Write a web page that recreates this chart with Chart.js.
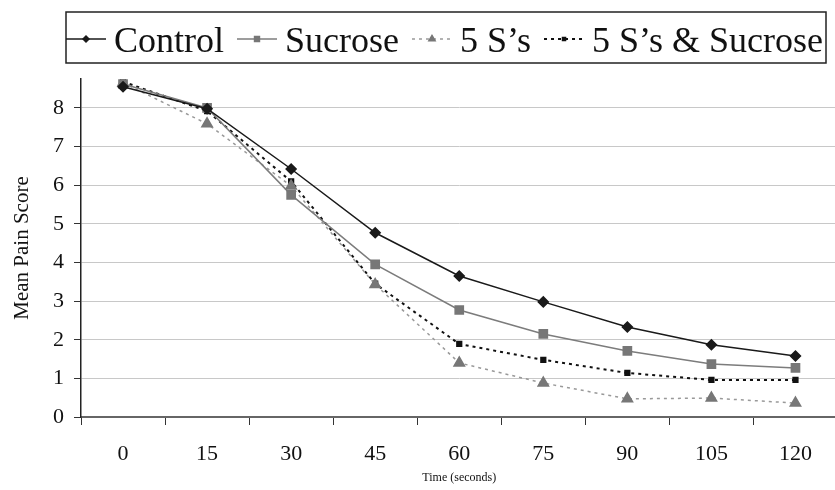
<!DOCTYPE html>
<html>
<head>
<meta charset="utf-8">
<script src="https://cdn.jsdelivr.net/npm/chart.js@4.4.1/dist/chart.umd.min.js"></script>
<style>
  html, body { margin: 0; padding: 0; background: #fff; overflow: hidden; }
  #wrap { width: 835px; height: 490px; overflow: hidden; }
  #box { width: 845px; height: 490px; }
</style>
</head>
<body>
<div id="wrap"><div id="box"><canvas id="chart"></canvas></div></div>
<script>
// Data
const timeLabels = ['0', '15', '30', '45', '60', '75', '90', '105', '120'];
const controlScores = [8.55, 7.98, 6.42, 4.77, 3.65, 2.98, 2.33, 1.87, 1.58];
const sucroseScores = [8.62, 8.00, 5.75, 3.95, 2.77, 2.15, 1.71, 1.37, 1.27];
const fiveSScores = [8.65, 7.59, 5.98, 3.43, 1.40, 0.88, 0.47, 0.49, 0.36];
const fiveSSucroseScores = [8.68, 7.92, 6.10, 3.45, 1.89, 1.48, 1.14, 0.96, 0.96];
const yTicks = [0, 1, 2, 3, 4, 5, 6, 7, 8];

const serif = '"Liberation Serif", "DejaVu Serif", serif';

// legend drawn as a boxed row on top, line sample + marker + text
const boxLegend = {
    id: 'boxLegend',
    afterDraw(chart) {
        const ctx = chart.ctx;
        const left = 66, top = 12, right = 826, bottom = 63;
        ctx.save();
        ctx.strokeStyle = '#222';
        ctx.lineWidth = 1.5;
        ctx.strokeRect(left, top, right - left, bottom - top);
        ctx.font = '36px ' + serif;
        ctx.textBaseline = 'alphabetic';
        let x = left;
        const midY = 39;
        chart.data.datasets.forEach(ds => {
            const w = 40;
            ctx.beginPath();
            ctx.setLineDash(ds.borderDash || []);
            ctx.strokeStyle = ds.borderColor;
            ctx.lineWidth = ds.borderWidth;
            ctx.moveTo(x, midY);
            ctx.lineTo(x + w, midY);
            ctx.stroke();
            ctx.setLineDash([]);
            ctx.fillStyle = ds.pointBackgroundColor;
            ctx.strokeStyle = ds.pointBorderColor;
            Chart.helpers.drawPoint(ctx, {
                pointStyle: ds.pointStyle,
                radius: ds.pointRadius * 0.6,
                rotation: 0,
                borderWidth: 1
            }, x + w / 2, midY);
            ctx.fillStyle = '#111';
            ctx.fillText(ds.label, x + w + 8, 52);
            x += w + 8 + ctx.measureText(ds.label).width + 13;
        });
        ctx.restore();
    }
};

new Chart(document.getElementById('chart'), {
    type: 'line',
    data: {
        labels: timeLabels,
        datasets: [
            {
                label: 'Control',
                data: controlScores,
                borderColor: '#1a1a1a',
                borderWidth: 1.5,
                pointStyle: 'rectRot',
                pointRadius: 5,
                pointBackgroundColor: '#1a1a1a',
                pointBorderColor: '#1a1a1a',
                tension: 0
            },
            {
                label: 'Sucrose',
                data: sucroseScores,
                borderColor: '#7c7c7c',
                borderWidth: 1.5,
                pointStyle: 'rect',
                pointRadius: 5.8,
                pointBackgroundColor: '#777',
                pointBorderColor: '#777',
                tension: 0
            },
            {
                label: '5 S\u2019s',
                data: fiveSScores,
                borderColor: '#999',
                borderWidth: 1.5,
                borderDash: [3, 4],
                pointStyle: 'triangle',
                pointRadius: 6,
                pointBackgroundColor: '#777',
                pointBorderColor: '#777',
                tension: 0
            },
            {
                label: '5 S\u2019s & Sucrose',
                data: fiveSSucroseScores,
                borderColor: '#111',
                borderWidth: 2,
                borderDash: [3, 4],
                pointStyle: 'rect',
                pointRadius: 3,
                pointBackgroundColor: '#111',
                pointBorderColor: '#111',
                tension: 0
            }
        ]
    },
    options: {
        responsive: true,
        maintainAspectRatio: false,
        animation: false,
        layout: { padding: { top: 79, right: 2, left: 0, bottom: 0 } },
        plugins: {
            legend: { display: false },
            tooltip: { enabled: false }
        },
        scales: {
            x: {
                offset: true,
                grid: {
                    offset: true,
                    drawOnChartArea: false,
                    tickLength: 8,
                    color: '#333'
                },
                border: { color: '#666', width: 2 },
                ticks: {
                    color: '#111',
                    font: { family: serif, size: 22 },
                    padding: 16,
                    maxRotation: 0
                },
                title: {
                    display: true,
                    text: 'Time (seconds)',
                    color: '#111',
                    font: { family: serif, size: 12 },
                    padding: { top: 4, bottom: 5 }
                },
                afterFit(scale) { scale.height = 73; }
            },
            y: {
                min: 0,
                max: 8.75,
                afterBuildTicks(scale) {
                    scale.ticks = yTicks.map(v => ({ value: v }));
                },
                grid: {
                    color: '#c8c8c8',
                    tickColor: '#333',
                    tickLength: 7,
                    lineWidth: 1
                },
                border: { color: '#222', width: 1.5 },
                ticks: {
                    color: '#111',
                    font: { family: serif, size: 22 },
                    padding: 10
                },
                title: {
                    display: true,
                    text: 'Mean Pain Score',
                    color: '#111',
                    font: { family: serif, size: 21 },
                    padding: { top: 10, bottom: 6 }
                },
                afterFit(scale) { scale.width = 81; }
            }
        }
    },
    plugins: [boxLegend]
});
</script>
</body>
</html>
